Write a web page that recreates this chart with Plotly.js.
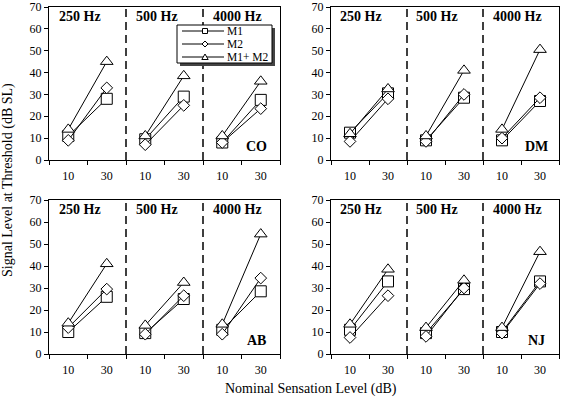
<!DOCTYPE html>
<html><head><meta charset="utf-8">
<script src="https://cdn.plot.ly/plotly-3.0.1.min.js"></script>
<style>html,body{margin:0;padding:0;background:#fff}</style>
</head><body><div id="chart" style="width:563px;height:400px"></div>
<script>
// Categories
const frequencies = ['250 Hz', '500 Hz', '4000 Hz'];
const levels = ['10', '30'];
const subjects = ['CO', 'DM', 'AB', 'NJ'];
const seriesNames = ['M1', 'M2', 'M1+ M2'];
// Values per subject: [250@10, 250@30, 500@10, 500@30, 4000@10, 4000@30] (dB SL)
const CO_M1  = [11, 28, 9.5, 29, 8, 27.5];
const CO_M2  = [9, 33, 7, 25, 8, 23.5];
const CO_M12 = [14, 45, 11, 38.5, 11, 36];
const DM_M1  = [12.5, 30.5, 9, 28.5, 9, 27];
const DM_M2  = [8.5, 28, 8.5, 30, 10, 28.5];
const DM_M12 = [12, 32.5, 11, 41, 14, 50.5];
const AB_M1  = [10, 26, 9.5, 25, 11, 28.5];
const AB_M2  = [12, 29.5, 9, 26.5, 9, 34.5];
const AB_M12 = [14, 41, 13, 32.5, 13.5, 54.5];
const NJ_M1  = [11, 33, 9.5, 29.5, 10, 33];
const NJ_M2  = [7.5, 26.5, 8, 30, 9.5, 32];
const NJ_M12 = [13.5, 38.5, 12, 33.5, 12, 46.5];

const dataBySubject = {
  CO: [CO_M1, CO_M2, CO_M12],
  DM: [DM_M1, DM_M2, DM_M12],
  AB: [AB_M1, AB_M2, AB_M12],
  NJ: [NJ_M1, NJ_M2, NJ_M12]
};

const FONT = 'Liberation Serif, Times New Roman, serif';
const W = 563, H = 400;
const px = v => v / W;
const py = v => 1 - v / H;

const symbols = ['square', 'diamond', 'triangle-up'];
const sizes = [11, 9, 11];

// panel pixel boxes [left, right, top, bottom]
const boxes = [[49, 280, 7, 160], [331, 559, 7, 160], [49, 280, 200, 354], [331, 559, 200, 354]];

const traces = [];
const layout = {
  width: W, height: H,
  margin: {l: 0, r: 0, t: 0, b: 0},
  paper_bgcolor: '#fff', plot_bgcolor: '#fff',
  showlegend: false,
  font: {family: FONT, color: '#000', size: 12},
  shapes: [], annotations: []
};

subjects.forEach((subj, k) => {
  const sfx = k === 0 ? '' : String(k + 1);
  const b = boxes[k];
  const tv = [], tt = [];
  frequencies.forEach((f, fi) => levels.forEach((l, li) => { tv.push(2 * fi + li + 0.5); tt.push(l); }));
  dataBySubject[subj].forEach((vals, si) => {
    const x = [], y = [];
    frequencies.forEach((f, fi) => {
      levels.forEach((l, li) => { x.push(2 * fi + li + 0.5); y.push(vals[2 * fi + li]); });
      x.push(null); y.push(null);
    });
    traces.push({
      type: 'scatter', mode: 'lines+markers', name: seriesNames[si],
      x: x, y: y, xaxis: 'x' + sfx, yaxis: 'y' + sfx,
      connectgaps: false, cliponaxis: false,
      line: {color: '#000', width: 1},
      marker: {symbol: symbols[si], size: sizes[si], color: '#fff', line: {color: '#000', width: 1}}
    });
  });
  layout['xaxis' + sfx] = {
    domain: [px(b[0]), px(b[1])], anchor: 'y' + sfx, range: [0, 6],
    tickmode: 'array', tickvals: tv, ticktext: tt, ticks: '', ticklabelstandoff: 5,
    minor: {tickmode: 'array', tickvals: [0, 1, 2, 3, 4, 5, 6], ticks: 'outside', ticklen: 4, tickcolor: '#000', tickwidth: 1, showgrid: false},
    showline: true, mirror: true, linecolor: '#000', linewidth: 1,
    showgrid: false, zeroline: false, fixedrange: true,
    tickfont: {family: FONT, size: 12, color: '#000'}
  };
  layout['yaxis' + sfx] = {
    domain: [py(b[3]), py(b[2])], anchor: 'x' + sfx, range: [0, 70],
    tickmode: 'linear', tick0: 0, dtick: 10, ticks: 'outside', ticklen: 4, tickcolor: '#000',
    ticklabeloverflow: 'allow',
    showline: true, mirror: true, linecolor: '#000', linewidth: 1,
    showgrid: false, zeroline: false, fixedrange: true,
    tickfont: {family: FONT, size: 12, color: '#000'}
  };
  // dashed separators
  [2, 4].forEach(xv => layout.shapes.push({
    type: 'line', xref: 'x' + sfx, yref: 'y' + sfx + ' domain', x0: xv, x1: xv, y0: 0, y1: 1,
    line: {color: '#000', width: 1.5, dash: '8px,5px'}
  }));
  // frequency labels
  const fx = [0.8, 2.8, 4.9];
  frequencies.forEach((f, fi) => layout.annotations.push({
    xref: 'x' + sfx, yref: 'y' + sfx, x: fx[fi], y: 65.5, text: f, showarrow: false,
    font: {family: FONT, size: 14, color: '#000', weight: 700}
  }));
  layout.annotations.push({
    xref: 'x' + sfx, yref: 'y' + sfx, x: 5.4, y: 6, text: subj, showarrow: false,
    font: {family: FONT, size: 14, color: '#000', weight: 700}
  });
});

// Legend (drawn in the first panel)
const lg = {x0: 177, x1: 272, y0: 25, y1: 63};
layout.shapes.push({type: 'rect', xref: 'paper', yref: 'paper', x0: px(lg.x0 + 3), x1: px(lg.x1 + 3), y0: py(lg.y1 + 3), y1: py(lg.y0 + 3), fillcolor: '#444', line: {width: 0}});
layout.shapes.push({type: 'rect', xref: 'paper', yref: 'paper', x0: px(lg.x0), x1: px(lg.x1), y0: py(lg.y1), y1: py(lg.y0), fillcolor: '#fff', line: {color: '#000', width: 1}});
const rowsY = [31, 44, 57];
seriesNames.forEach((n, i) => {
  const yy = rowsY[i];
  layout.shapes.push({type: 'line', xref: 'paper', yref: 'paper', x0: px(182), x1: px(224), y0: py(yy), y1: py(yy), line: {color: '#000', width: 1}});
  const cx = 205;
  let path;
  if (i === 0) path = `M${px(cx - 2.5)},${py(yy - 2.5)} L${px(cx + 2.5)},${py(yy - 2.5)} L${px(cx + 2.5)},${py(yy + 2.5)} L${px(cx - 2.5)},${py(yy + 2.5)} Z`;
  else if (i === 1) path = `M${px(cx)},${py(yy - 3)} L${px(cx + 3)},${py(yy)} L${px(cx)},${py(yy + 3)} L${px(cx - 3)},${py(yy)} Z`;
  else path = `M${px(cx)},${py(yy - 3)} L${px(cx + 3.2)},${py(yy + 2.5)} L${px(cx - 3.2)},${py(yy + 2.5)} Z`;
  layout.shapes.push({type: 'path', xref: 'paper', yref: 'paper', path: path, fillcolor: '#fff', line: {color: '#000', width: 1}});
  layout.annotations.push({xref: 'paper', yref: 'paper', x: px(225), y: py(yy), xanchor: 'left', yanchor: 'middle', text: n, showarrow: false, font: {family: FONT, size: 11.5, color: '#000'}});
});

// Axis titles
layout.annotations.push({xref: 'paper', yref: 'paper', x: px(8), y: py(180), xanchor: 'center', yanchor: 'middle', text: 'Signal Level at Threshold (dB SL)', textangle: -90, showarrow: false, font: {family: FONT, size: 14, color: '#000'}});
layout.annotations.push({xref: 'paper', yref: 'paper', x: px(311), y: py(389), xanchor: 'center', yanchor: 'middle', text: 'Nominal Sensation Level (dB)', showarrow: false, font: {family: FONT, size: 14, color: '#000'}});

Plotly.newPlot('chart', traces, layout, {displayModeBar: false, staticPlot: true});
</script></body></html>
